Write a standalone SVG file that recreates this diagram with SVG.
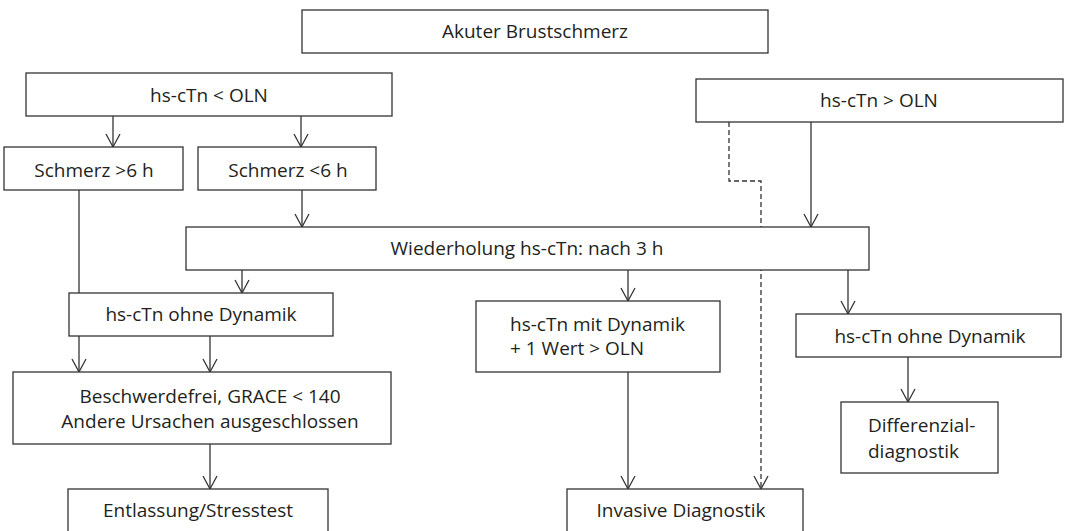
<svg xmlns="http://www.w3.org/2000/svg" width="1067" height="531" viewBox="0 0 1067 531">
<style>
  .box { fill: #fff; stroke: #333; stroke-width: 1.3; }
  .t { font-family: "Open Sans", "Noto Sans", sans-serif; font-size: 19px; fill: #231f20; }
  .m { text-anchor: middle; }
  .ln { fill: none; stroke: #333; stroke-width: 1.3; marker-end: url(#ah); }
  .dash { stroke-dasharray: 5 3; }
</style>
<defs>
  <marker id="ah" markerUnits="userSpaceOnUse" markerWidth="16" markerHeight="16" viewBox="-14 -8 16 16" refX="0" refY="0" orient="auto" overflow="visible">
    <path d="M-13,-7 L0,0 L-13,7" fill="none" stroke="#333" stroke-width="1.3"/>
  </marker>
</defs>
<rect width="1067" height="531" fill="#fff"/>
<g id="connectors">
  <path class="ln" d="M113,116 V147"/>
  <path class="ln" d="M301,116 V147"/>
  <path class="ln" d="M811,122 V227"/>
  <path class="ln dash" d="M729,122 V181 H761 V489"/>
  <path class="ln" d="M302,190 V227"/>
  <path class="ln" d="M242,270 V293"/>
  <path class="ln" d="M628,270 V301"/>
  <path class="ln" d="M848,270 V314"/>
  <path class="ln" d="M79,190 V293" style="marker-end:none"/>
  <path class="ln" d="M79,336 V372"/>
  <path class="ln" d="M210,336 V372"/>
  <path class="ln" d="M210,444 V489"/>
  <path class="ln" d="M628,372 V489"/>
  <path class="ln" d="M908,357 V402"/>
</g>
<g id="n1"><rect class="box" x="302" y="10" width="466" height="43"/><text class="t m" x="535" y="38">Akuter Brustschmerz</text></g>
<g id="n2"><rect class="box" x="26" y="73" width="366" height="43"/><text class="t m" x="209" y="102">hs-cTn &lt; OLN</text></g>
<g id="n3"><rect class="box" x="696" y="79" width="367" height="43"/><text class="t m" x="879" y="107">hs-cTn &gt; OLN</text></g>
<g id="n4"><rect class="box" x="4" y="147" width="179" height="43"/><text class="t m" x="94" y="177">Schmerz &gt;6 h</text></g>
<g id="n5"><rect class="box" x="198" y="147" width="178" height="43"/><text class="t m" x="288" y="177">Schmerz &lt;6 h</text></g>
<g id="n6"><rect class="box" x="186" y="227" width="683" height="43"/><text class="t m" x="527" y="255">Wiederholung hs-cTn: nach 3 h</text></g>
<g id="n7"><rect class="box" x="69" y="293" width="264" height="43"/><text class="t m" x="201" y="321">hs-cTn ohne Dynamik</text></g>
<g id="n8"><rect class="box" x="476" y="301" width="244" height="71"/><text class="t" x="510" y="331">hs-cTn mit Dynamik</text><text class="t" x="510" y="355">+ 1 Wert &gt; OLN</text></g>
<g id="n9"><rect class="box" x="796" y="314" width="265" height="43"/><text class="t m" x="930" y="343">hs-cTn ohne Dynamik</text></g>
<g id="n10"><rect class="box" x="13" y="372" width="378" height="72"/><text class="t m" x="210" y="403">Beschwerdefrei, GRACE &lt; 140</text><text class="t m" x="210" y="428">Andere Ursachen ausgeschlossen</text></g>
<g id="n11"><rect class="box" x="841" y="402" width="157" height="71"/><text class="t" x="868" y="432">Differenzial-</text><text class="t" x="868" y="458">diagnostik</text></g>
<g id="n12"><rect class="box" x="68" y="489" width="260" height="60"/><text class="t m" x="198" y="517">Entlassung/Stresstest</text></g>
<g id="n13"><rect class="box" x="567" y="489" width="236" height="60"/><text class="t m" x="681" y="517">Invasive Diagnostik</text></g>
</svg>
